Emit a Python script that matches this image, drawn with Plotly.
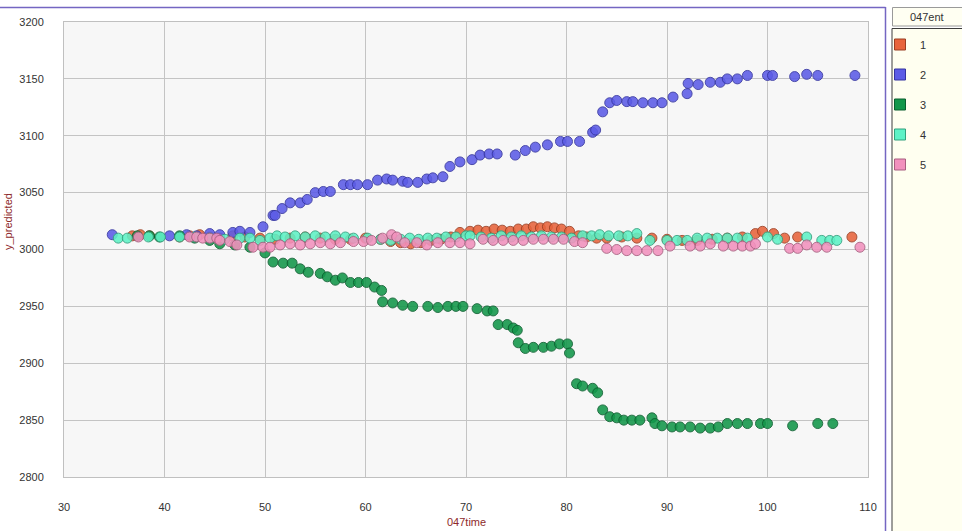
import plotly.graph_objects as go

# ---------------- data ----------------
series_names = ["1", "2", "3", "4", "5"]

x1 = [36.8, 37.6, 38.5, 41.5, 42.5, 43.5, 44.5, 45.5, 46.8, 48.0, 49.5, 51.0, 52.5, 54.0, 55.5,
      57.0, 58.5, 60.0, 61.5, 62.5, 63.5, 64.5, 65.5, 66.5, 67.5, 68.5, 69.4, 70.4, 71.2, 72.0,
      72.8, 73.6, 74.4, 75.2, 76.0, 76.7, 77.4, 78.1, 78.8, 79.5, 80.3, 81.2, 82.0, 83.0, 84.0,
      85.5, 87.0, 88.5, 90.0, 91.5, 93.0, 94.5, 96.0, 97.5, 98.8, 99.5, 100.6, 101.7, 103.0, 108.4]
y1 = [3012, 3013, 3012, 3011, 3012, 3013, 3011, 3010, 3012, 3011, 3010, 3009, 3010, 3011, 3010,
      3009, 3009, 3010, 3009, 3007, 3006, 3005, 3006, 3008, 3009, 3011, 3015, 3016, 3017, 3016,
      3018, 3017, 3016, 3018, 3018, 3020, 3019, 3020, 3019, 3018, 3016, 3012, 3011, 3010, 3010,
      3011, 3010, 3010, 3009, 3008, 3008, 3009, 3010, 3011, 3014, 3016, 3014, 3010, 3011, 3011]

x2 = [34.8, 40.5, 42.2, 43.2, 44.5, 45.5, 46.8, 47.5, 48.5, 49.8, 50.8, 51.0, 51.7, 52.5, 53.5,
      54.2, 55.0, 55.8, 56.5, 57.8, 58.5, 59.2, 60.2, 61.2, 62.1, 62.7, 63.7, 64.2, 65.2, 66.1,
      66.7, 67.7, 68.4, 69.4, 70.6, 71.4, 72.3, 73.1, 74.9, 75.9, 76.9, 78.1, 79.4, 80.1, 81.3,
      82.6, 82.9, 83.6, 84.3, 85.0, 86.0, 86.6, 87.6, 88.6, 89.5, 90.6, 92.0, 92.1, 93.1, 94.3,
      95.3, 96.0, 97.0, 98.0, 100.0, 100.5, 102.7, 103.9, 105.0, 108.7]
y2 = [3013, 3012, 3013, 3012, 3014, 3013, 3015, 3016, 3015, 3020, 3030, 3030, 3036, 3041, 3041,
      3044, 3050, 3051, 3051, 3057, 3057, 3057, 3057, 3061, 3062, 3061, 3060, 3059, 3059, 3062,
      3063, 3064, 3073, 3077, 3079, 3083, 3084, 3084, 3083, 3087, 3090, 3092, 3095, 3095, 3095,
      3103, 3105, 3121, 3129, 3131, 3130, 3130, 3129, 3129, 3129, 3134, 3137, 3146, 3145, 3147,
      3147, 3150, 3150, 3153, 3153, 3153, 3152, 3154, 3153, 3153]

x3 = [37.3, 38.5, 39.5, 41.5, 43.0, 44.5, 45.5, 47.0, 48.5, 50.0, 50.8, 51.8, 52.7, 53.5, 54.3,
      55.5, 56.2, 57.0, 57.7, 58.5, 59.3, 60.1, 60.9, 61.6, 61.7, 62.7, 63.7, 64.7, 66.2, 67.2,
      68.2, 69.0, 69.7, 71.1, 72.1, 72.7, 73.2, 74.1, 74.7, 75.1, 75.2, 75.9, 76.7, 77.7, 78.5,
      79.3, 80.1, 80.3, 81.0, 81.6, 82.6, 83.1, 83.6, 84.3, 85.0, 85.7, 86.5, 87.3, 88.5, 88.8,
      89.5, 90.5, 91.3, 92.3, 93.3, 94.3, 95.1, 96.0, 97.0, 98.0, 99.3, 100.0, 102.5, 105.0, 106.5]
y3 = [3012, 3012, 3011, 3012, 3010, 3008, 3005, 3004, 3002, 2997, 2989, 2988, 2988, 2983, 2980,
      2979, 2976, 2973, 2975, 2971, 2971, 2971, 2967, 2964, 2954, 2953, 2951, 2950, 2950, 2949,
      2950, 2950, 2950, 2948, 2946, 2946, 2934, 2934, 2931, 2929, 2918, 2913, 2914, 2914, 2915,
      2917, 2917, 2909, 2882, 2880, 2878, 2874, 2859, 2853, 2852, 2850, 2850, 2850, 2852, 2847,
      2845, 2844, 2844, 2844, 2843, 2843, 2844, 2847, 2847, 2847, 2847, 2847, 2845, 2847, 2847]

x4 = [35.4, 36.3, 38.4, 39.6, 41.5, 43.0, 44.5, 46.0, 47.5, 48.5, 49.5, 50.5, 51.2, 52.0, 53.0,
      54.0, 55.0, 56.0, 57.0, 58.0, 58.8, 60.2, 61.5, 62.5, 63.5, 64.4, 65.3, 66.2, 67.1, 68.0,
      69.0, 70.0, 70.4, 71.5, 72.5, 73.5, 74.5, 75.5, 76.5, 77.5, 78.5, 79.5, 80.5, 81.6, 82.5,
      83.3, 84.2, 85.2, 86.1, 87.0, 88.3, 90.0, 91.0, 92.0, 93.0, 94.0, 95.0, 96.0, 97.0, 98.0,
      100.0, 101.0, 103.9, 105.4, 106.2, 106.9]
y4 = [3010, 3010, 3011, 3011, 3011, 3011, 3010, 3009, 3010, 3010, 3008, 3010, 3012, 3011, 3012,
      3011, 3012, 3011, 3012, 3011, 3010, 3010, 3009, 3008, 3009, 3010, 3009, 3010, 3010, 3011,
      3011, 3012, 3012, 3011, 3010, 3012, 3011, 3012, 3011, 3012, 3011, 3011, 3010, 3012, 3012,
      3013, 3012, 3012, 3012, 3014, 3008, 3008, 3008, 3008, 3010, 3010, 3010, 3010, 3010, 3010,
      3011, 3009, 3011, 3008, 3008, 3008]

x5 = [37.4, 42.5, 43.2, 43.8, 44.5, 45.2, 45.5, 46.5, 47.2, 48.8, 49.8, 50.5, 51.5, 52.5, 53.5,
      54.5, 55.5, 56.5, 57.5, 58.8, 59.8, 60.6, 61.7, 62.6, 63.1, 63.9, 65.1, 66.1, 67.2, 68.4,
      69.4, 70.4, 71.7, 72.7, 73.7, 74.7, 75.7, 76.7, 77.7, 78.7, 79.7, 80.8, 81.6, 84.0, 85.0,
      86.0, 87.0, 88.0, 89.1, 90.3, 92.3, 93.3, 94.3, 95.6, 96.6, 97.5, 98.3, 98.8, 102.2, 103.0,
      103.9, 104.9, 105.9, 109.2]
y5 = [3011, 3011, 3011, 3010, 3010, 3010, 3008, 3007, 3004, 3002, 3002, 3002, 3004, 3005, 3004,
      3005, 3006, 3005, 3006, 3007, 3007, 3008, 3010, 3013, 3011, 3006, 3006, 3004, 3006, 3006,
      3006, 3005, 3009, 3008, 3008, 3008, 3008, 3009, 3009, 3009, 3009, 3007, 3006, 3001, 3000,
      2999, 2999, 2999, 2999, 3003, 3003, 3003, 3005, 3003, 3003, 3003, 3003, 3005, 3001, 3001,
      3004, 3002, 3002, 3002]

x_ticks = [30, 40, 50, 60, 70, 80, 90, 100, 110]
y_ticks = [2800, 2850, 2900, 2950, 3000, 3050, 3100, 3150, 3200]

fill_colors = ["#E8643C", "#5C5CE6", "#12974A", "#5EF2C6", "#F291BD"]
edge_colors = ["#9A3E22", "#3434A0", "#0A5E2E", "#33A07E", "#A85F80"]

# ---------------- figure ----------------
xs = [x1, x2, x3, x4, x5]
ys = [y1, y2, y3, y4, y5]

fig = go.Figure()
for name, xv, yv, fc, ec in zip(series_names, xs, ys, fill_colors, edge_colors):
    fig.add_trace(go.Scatter(
        x=xv, y=yv, mode="markers", name=name, showlegend=False,
        marker=dict(size=10, color=fc, opacity=0.88, line=dict(color=ec, width=1)),
    ))
# legend entries (square swatches)
for i, (name, fc, ec) in enumerate(zip(series_names, fill_colors, edge_colors)):
    fig.add_trace(go.Scatter(
        x=[None], y=[None], mode="markers", name=name, legendgroup=name,
        marker=dict(size=11, symbol="square", color=fc, line=dict(color=ec, width=1)),
    ))

font = "Liberation Sans, Arial, sans-serif"

fig.update_layout(
    width=962, height=531,
    margin=dict(l=64, r=94, t=22, b=54),
    paper_bgcolor="white",
    plot_bgcolor="#F7F7F7",
    font=dict(family=font, size=11, color="#333333"),
    showlegend=True,
    legend=dict(
        x=(880 - 64) / 804, xanchor="left",
        y=(477 - 30) / 455, yanchor="top",
        bgcolor="rgba(0,0,0,0)", borderwidth=0,
        tracegroupgap=11, itemclick=False,
        font=dict(family=font, size=11, color="#333333"),
    ),
    xaxis=dict(
        range=[30, 110], tickvals=x_ticks, ticktext=[str(v) for v in x_ticks],
        showgrid=True, gridcolor="#C4C4C4", gridwidth=1, zeroline=False,
        showline=True, linecolor="#C0C0C0", linewidth=1, mirror=True,
        ticks="outside", ticklen=20, tickcolor="rgba(0,0,0,0)",
    ),
    yaxis=dict(
        range=[2800, 3200], tickvals=y_ticks, ticktext=[str(v) for v in y_ticks],
        showgrid=True, gridcolor="#C4C4C4", gridwidth=1, zeroline=False,
        showline=True, linecolor="#C0C0C0", linewidth=1, mirror=True,
        ticks="outside", ticklen=17, tickcolor="rgba(0,0,0,0)",
    ),
)

def px_x(p):
    return (p - 64) / 804

def px_y(p):
    return (477 - p) / 455

shapes = [
    # top purple line
    dict(type="line", xref="paper", yref="paper", x0=px_x(0), x1=px_x(885.5),
         y0=px_y(7.5), y1=px_y(7.5), line=dict(color="#7466C2", width=1.5)),
    # vertical purple line
    dict(type="line", xref="paper", yref="paper", x0=px_x(885.5), x1=px_x(885.5),
         y0=px_y(7), y1=px_y(535), line=dict(color="#7466C2", width=1.5)),
    # legend panel
    dict(type="rect", xref="paper", yref="paper", x0=px_x(892), x1=px_x(975),
         y0=px_y(540), y1=px_y(28.5), fillcolor="#FFFFF0",
         line=dict(color="#3C3C3C", width=1), layer="below"),
    # legend header box
    dict(type="rect", xref="paper", yref="paper", x0=px_x(892.5), x1=px_x(975),
         y0=px_y(26), y1=px_y(7.5), fillcolor="#FFFFF2",
         line=dict(color="#9A9A9A", width=1), layer="below"),
]

annotations = [
    dict(text="047ent", xref="paper", yref="paper", x=px_x(927), y=px_y(16.5),
         xanchor="center", yanchor="middle", showarrow=False,
         font=dict(family=font, size=11, color="#333333")),
    dict(text="047time", xref="paper", yref="paper", x=px_x(466), y=px_y(522),
         xanchor="center", yanchor="middle", showarrow=False,
         font=dict(family=font, size=11, color="#8E2A2A")),
    dict(text="y_predicted", xref="paper", yref="paper", x=px_x(8), y=px_y(222),
         xanchor="center", yanchor="middle", showarrow=False, textangle=-90,
         font=dict(family=font, size=11, color="#8E2A2A")),
]

fig.update_layout(shapes=shapes, annotations=annotations)

fig.write_html(
    "out.html",
    config={"displayModeBar": False},
    post_script="document.body.style.margin='0px';document.body.style.overflow='hidden';",
)
